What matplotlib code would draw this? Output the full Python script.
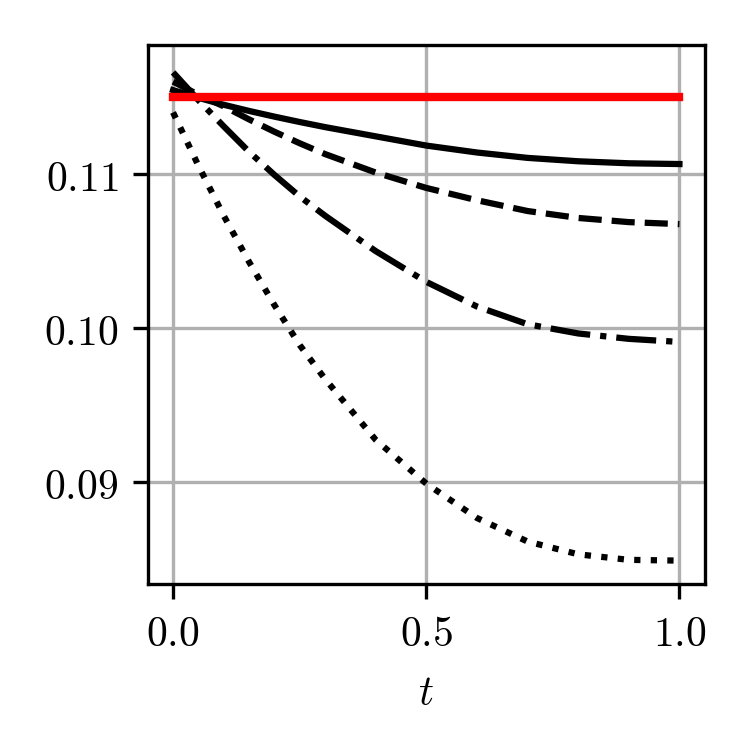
import matplotlib
matplotlib.use("Agg")
import matplotlib.pyplot as plt
import numpy as np

plt.rcParams["font.family"] = "serif"
plt.rcParams["mathtext.fontset"] = "cm"
plt.rcParams["font.size"] = 10

# values
t = [0.0, 0.05, 0.1, 0.15, 0.2, 0.25, 0.3, 0.4, 0.5, 0.6, 0.7, 0.8, 0.9, 1.0]
solid = [0.11545, 0.11495, 0.11450, 0.11410, 0.11373, 0.11338, 0.11305,
         0.11245, 0.11185, 0.11140, 0.11105, 0.11083, 0.11070, 0.11065]
dashed = [0.11600, 0.11515, 0.11440, 0.11355, 0.11275, 0.11200, 0.11130,
          0.11010, 0.10910, 0.10830, 0.10760, 0.10715, 0.10688, 0.10675]
dashdot = [0.11660, 0.11480, 0.11310, 0.11145, 0.10995, 0.10855, 0.10730,
           0.10500, 0.10300, 0.10140, 0.10025, 0.09965, 0.09930, 0.09910]
dotted = [0.11400, 0.11055, 0.10730, 0.10430, 0.10150, 0.09890, 0.09670,
          0.09275, 0.08990, 0.08767, 0.08614, 0.08531, 0.08495, 0.08490]
ref_t = [0.0, 1.0]
ref_val = [0.115, 0.115]

xticks = [0.0, 0.5, 1.0]
yticks = [0.09, 0.10, 0.11]

fig = plt.figure(figsize=(2.5, 2.5), dpi=300)
ax = fig.add_axes([0.197, 0.2213, 0.7427, 0.7187])

ax.plot(t, solid, color="black", linestyle="-", linewidth=1.5)
ax.plot(t, dashed, color="black", linestyle="--", linewidth=1.5)
ax.plot(t, dashdot, color="black", linestyle="-.", linewidth=1.5)
ax.plot(t, dotted, color="black", linestyle=":", linewidth=1.5)
ax.plot(ref_t, ref_val, color="red", linestyle="-", linewidth=2.0)

ax.set_xlim(-0.05, 1.05)
ax.set_ylim(0.08338, 0.11838)
ax.set_xticks(xticks, labels=[f"${v:.1f}$" for v in xticks])
ax.set_yticks(yticks, labels=[f"${v:.2f}$" for v in yticks])
ax.set_xlabel("$t$")
ax.grid(True)

fig.savefig("out.png", dpi=300)
